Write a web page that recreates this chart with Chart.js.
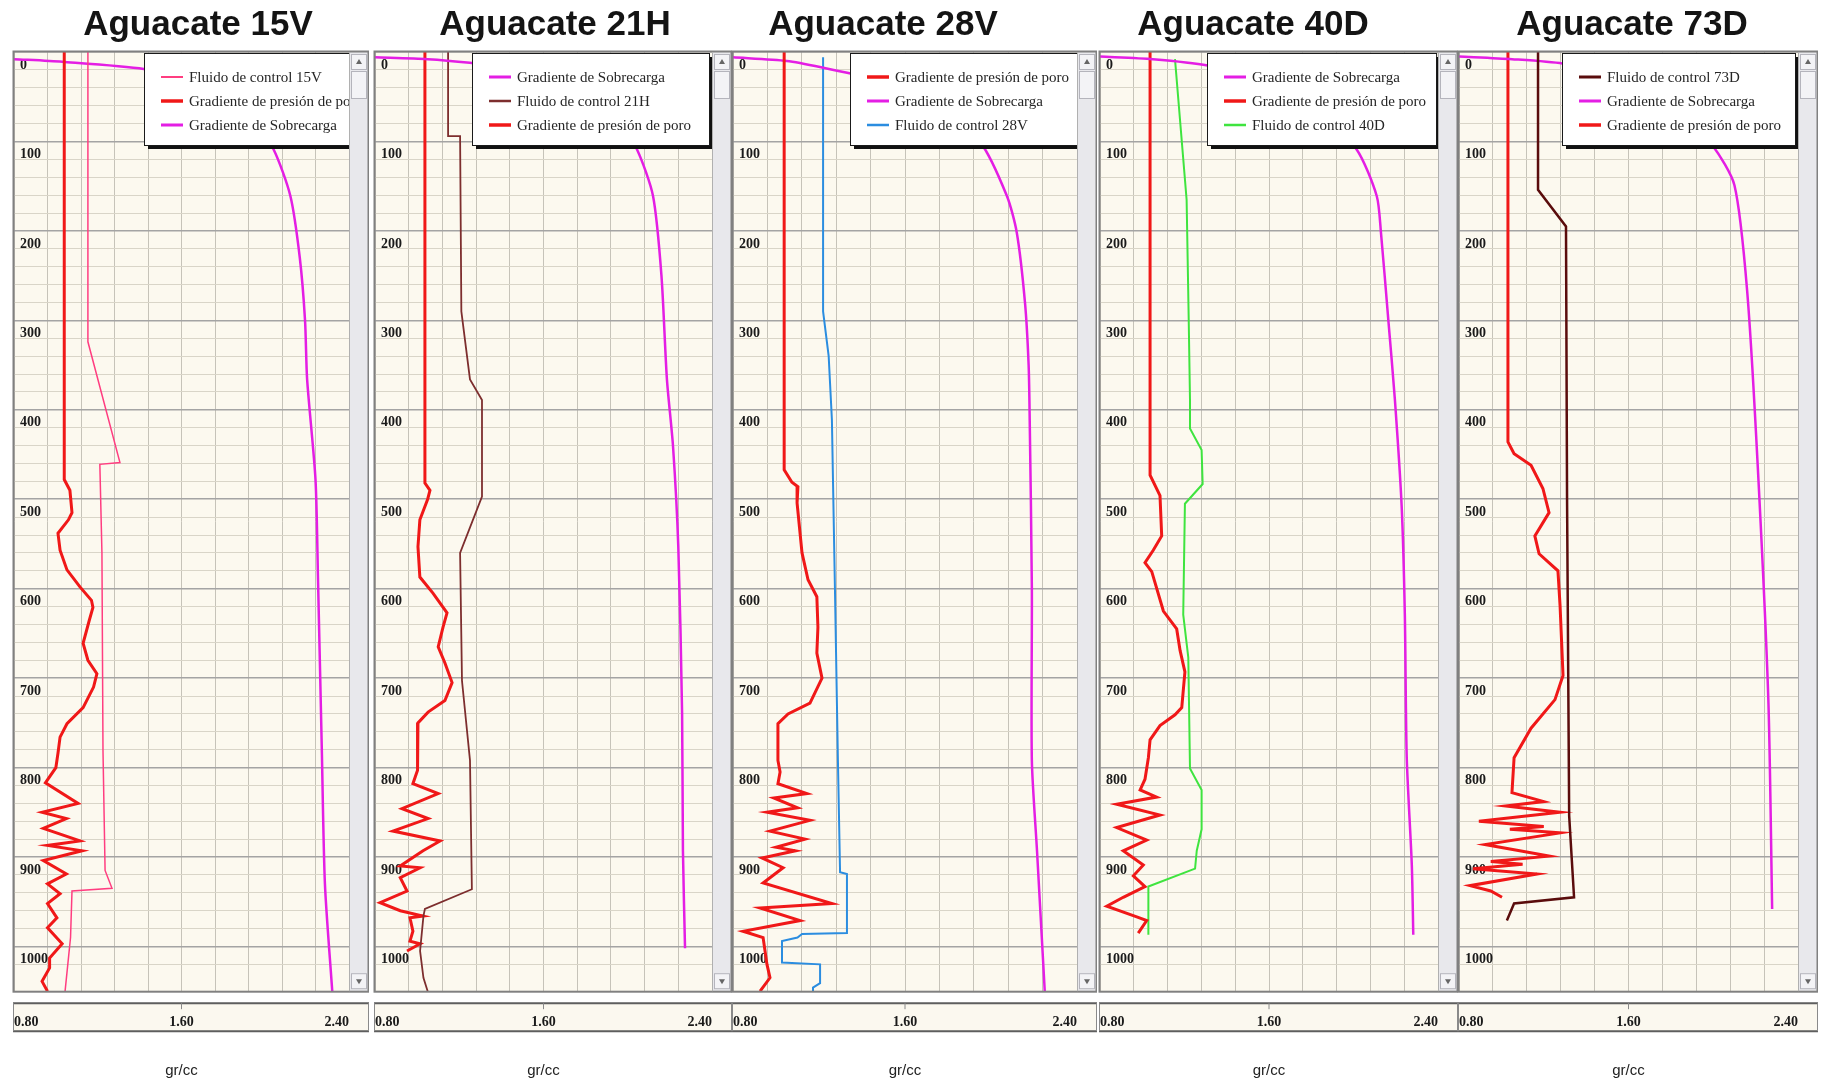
<!DOCTYPE html>
<html lang="es">
<head>
<meta charset="utf-8">
<title>Gradientes - Aguacate</title>
<script src="https://cdn.jsdelivr.net/npm/chart.js"></script>
<style>
  html, body { margin: 0; padding: 0; background: #fff; }
  #lamina { position: relative; width: 1826px; height: 1086px; overflow: hidden; }
  .pozo { position: absolute; top: 0; }
  .titulo {
    position: absolute; top: 2px; width: 320px; text-align: center;
    font: bold 35px "Liberation Sans", Arial, sans-serif; line-height: 42px;
    color: #141414; white-space: nowrap;
  }
</style>
</head>
<body>
<div id="lamina"></div>
<script>
// ejes
const densidadGrid = [0.8, 0.96, 1.12, 1.28, 1.44, 1.6, 1.76, 1.92, 2.08, 2.24, 2.4];
const densidadEtiquetas = [0.8, 1.6, 2.4];

// cada punto: [gr/cc, profundidad]
// Aguacate 15V
const control15V = [[1.153,0],[1.153,324],[1.306,459],[1.21,461],[1.22,560],[1.225,781],[1.235,915],[1.268,935],[1.077,938],[1.07,990],[1.044,1050]];
const poro15V = [[1.04,0],[1.04,478],[1.067,490],[1.077,515],[1.06,523],[1.01,538],[1.02,557],[1.053,579],[1.115,598],[1.17,613],[1.177,621],[1.16,635],[1.13,661],[1.153,680],[1.196,695],[1.18,710],[1.13,733],[1.053,751],[1.02,766],[1.01,784],[1.0,800],[0.95,817],[1.106,840],[0.934,850],[1.05,857],[0.94,868],[1.115,882],[0.96,887],[1.125,893],[0.94,904],[1.05,919],[0.96,930],[1.02,941],[0.96,952],[1.005,968],[0.96,979],[1.03,997],[0.97,1013],[0.97,1024],[0.934,1039],[0.96,1050]];
const sobrecarga15V = [[0.8,8],[1.03,11],[1.42,19],[1.72,35],[1.92,65],[2.04,109],[2.12,161],[2.165,230],[2.19,300],[2.2,366],[2.24,478],[2.252,590],[2.27,778],[2.285,930],[2.32,1050]];

// Aguacate 21H
const sobrecarga21H = [[0.8,6],[1.05,8],[1.25,12],[1.45,18],[1.75,38],[1.95,75],[2.044,109],[2.12,161],[2.16,250],[2.186,366],[2.215,441],[2.24,553],[2.258,739],[2.262,893],[2.272,1002]];
const control21H = [[1.147,0],[1.147,94],[1.204,94],[1.21,290],[1.251,366],[1.308,389],[1.308,497],[1.204,560],[1.213,703],[1.251,792],[1.26,936],[1.037,958],[1.03,966],[1.014,1005],[1.03,1035],[1.05,1050]];
const poro21H = [[1.037,0],[1.037,482],[1.061,490],[1.05,500],[1.013,523],[1.004,553],[1.013,587],[1.075,605],[1.142,627],[1.123,643],[1.1,665],[1.132,683],[1.166,705],[1.132,725],[1.052,738],[1.004,750],[1.004,792],[1.0,803],[0.98,818],[1.1,829],[0.928,846],[1.052,857],[0.885,871],[1.109,882],[1.028,893],[0.92,910],[1.014,912],[0.92,923],[0.952,938],[0.824,951],[0.92,960],[1.028,966],[0.966,968],[0.98,983],[0.966,994],[1.014,997],[0.952,1005]];

// Aguacate 28V
const poro28V = [[1.038,0],[1.038,411],[1.038,467],[1.074,481],[1.102,486],[1.098,504],[1.121,560],[1.149,590],[1.19,609],[1.195,643],[1.19,672],[1.214,700],[1.158,728],[1.056,740],[1.009,751],[1.009,792],[1.019,805],[1.009,818],[1.144,829],[0.99,834],[1.1,845],[0.958,850],[1.158,859],[0.972,871],[1.135,880],[1.0,889],[1.09,893],[0.935,901],[1.033,912],[0.94,929],[1.26,952],[0.926,957],[1.112,971],[0.847,983],[0.94,990],[0.958,1020],[0.972,1035],[0.926,1050]];
const sobrecarga28V = [[0.8,6],[1.05,10],[1.21,17],[1.45,30],[1.7,50],[1.95,101],[2.074,161],[2.12,202],[2.158,280],[2.175,350],[2.18,411],[2.19,598],[2.19,792],[2.214,893],[2.25,1050]];
const control28V = [[1.219,6],[1.219,290],[1.245,340],[1.26,411],[1.274,598],[1.288,792],[1.298,917],[1.33,919],[1.33,985],[1.121,986],[1.1,990],[1.028,994],[1.028,1018],[1.205,1020],[1.205,1041],[1.172,1046],[1.172,1052]];

// Aguacate 40D
const sobrecarga40D = [[0.8,5],[1.05,8],[1.31,15],[1.55,30],[1.8,55],[2.015,109],[2.11,161],[2.13,202],[2.165,300],[2.196,389],[2.228,508],[2.243,629],[2.252,789],[2.276,909],[2.283,987]];
const poro40D = [[1.037,0],[1.037,473],[1.084,496],[1.092,541],[1.052,557],[1.013,571],[1.045,581],[1.1,625],[1.163,645],[1.179,669],[1.202,693],[1.187,733],[1.155,741],[1.084,753],[1.037,769],[1.029,789],[1.013,813],[0.99,825],[1.068,833],[0.879,841],[1.084,853],[0.879,867],[1.021,881],[0.91,893],[1.005,909],[0.958,921],[1.013,933],[0.91,945],[0.832,955],[0.974,967],[1.021,971],[0.981,985]];
const control40D = [[1.155,8],[1.21,165],[1.22,300],[1.226,389],[1.226,421],[1.281,445],[1.286,483],[1.202,505],[1.194,629],[1.218,677],[1.226,801],[1.281,825],[1.281,869],[1.258,893],[1.25,913],[1.029,933],[1.029,987]];

// Aguacate 73D
const control73D = [[1.173,0],[1.173,154],[1.305,195],[1.31,500],[1.32,854],[1.343,945],[1.06,952],[1.026,971]];
const sobrecarga73D = [[0.8,5],[1.05,8],[1.29,13],[1.55,28],[1.8,55],[1.995,104],[2.1,149],[2.16,267],[2.21,463],[2.26,724],[2.278,958]];
const poro73D = [[1.031,0],[1.031,436],[1.06,449],[1.14,462],[1.196,488],[1.225,515],[1.158,541],[1.178,561],[1.267,580],[1.277,619],[1.291,697],[1.253,724],[1.14,756],[1.06,789],[1.05,828],[1.2,838],[1.02,843],[1.277,850],[0.894,860],[1.2,866],[1.04,869],[1.277,873],[0.923,886],[1.225,899],[0.95,905],[1.1,908],[0.866,913],[1.168,919],[0.852,932],[0.95,938],[1.003,945]];

const pozos = [
  { titulo: 'Aguacate 15V', series: [
    ['Fluido de control 15V', control15V, 'c15V'],
    ['Gradiente de presión de poro', poro15V, 'poro'],
    ['Gradiente de Sobrecarga', sobrecarga15V, 'sobrecarga']] },
  { titulo: 'Aguacate 21H', series: [
    ['Gradiente de Sobrecarga', sobrecarga21H, 'sobrecarga'],
    ['Fluido de control 21H', control21H, 'c21H'],
    ['Gradiente de presión de poro', poro21H, 'poro']] },
  { titulo: 'Aguacate 28V', series: [
    ['Gradiente de presión de poro', poro28V, 'poro'],
    ['Gradiente de Sobrecarga', sobrecarga28V, 'sobrecarga'],
    ['Fluido de control 28V', control28V, 'c28V']] },
  { titulo: 'Aguacate 40D', series: [
    ['Gradiente de Sobrecarga', sobrecarga40D, 'sobrecarga'],
    ['Gradiente de presión de poro', poro40D, 'poro'],
    ['Fluido de control 40D', control40D, 'c40D']] },
  { titulo: 'Aguacate 73D', series: [
    ['Fluido de control 73D', control73D, 'c73D'],
    ['Gradiente de Sobrecarga', sobrecarga73D, 'sobrecarga'],
    ['Gradiente de presión de poro', poro73D, 'poro']] }
];

// estilos y geometria (px)
const estilos = {
  poro:       { color: '#f01818', width: 3 },
  sobrecarga: { color: '#e41ee4', width: 2.5, tension: 0.25 },
  c15V:       { color: '#ff3d80', width: 1.5 },
  c21H:       { color: '#7d2e2e', width: 1.8 },
  c28V:       { color: '#2b8de0', width: 2 },
  c40D:       { color: '#3fe43f', width: 2 },
  c73D:       { color: '#5a0c0c', width: 2.5 }
};
const cajas = [
  { left: 12,   width: 357, legendLeft: 130, titleX: 198 },
  { left: 373,  width: 359, legendLeft: 97,  titleX: 555 },
  { left: 731,  width: 366, legendLeft: 117, titleX: 883 },
  { left: 1098, width: 360, legendLeft: 107, titleX: 1253 },
  { left: 1457, width: 361, legendLeft: 103, titleX: 1632 }
];
const SCROLL = 20;
const serif = '"Liberation Serif", "Times New Roman", serif';

// fondo crema, barra de desplazamiento y franja del eje x
const fondoPanel = {
  id: 'fondoPanel',
  beforeDraw(chart) {
    const { ctx, chartArea: a } = chart;
    ctx.save();
    ctx.fillStyle = '#fcf9ef';
    ctx.fillRect(a.left, a.top, a.width, a.height);

    // scrollbar
    const sx = a.right + 1, sw = SCROLL - 2;
    ctx.fillStyle = '#e8e8ec';
    ctx.fillRect(sx, a.top, sw, a.height);
    const boton = (y, h) => {
      ctx.fillStyle = '#f3f3f6';
      ctx.fillRect(sx + 1, y, sw - 2, h);
      ctx.strokeStyle = '#b4b4bc';
      ctx.lineWidth = 1;
      ctx.strokeRect(sx + 1.5, y + 0.5, sw - 3, h - 1);
    };
    boton(a.top + 2, 16);
    boton(a.top + 19, 28);
    boton(a.bottom - 18, 16);
    ctx.fillStyle = '#666';
    const cx = sx + sw / 2;
    ctx.beginPath();
    ctx.moveTo(cx - 3, a.top + 12); ctx.lineTo(cx + 3, a.top + 12); ctx.lineTo(cx, a.top + 7); ctx.fill();
    ctx.beginPath();
    ctx.moveTo(cx - 3, a.bottom - 12); ctx.lineTo(cx + 3, a.bottom - 12); ctx.lineTo(cx, a.bottom - 7); ctx.fill();

    // franja del eje x
    const y0 = a.bottom + 12, y1 = a.bottom + 40;
    const xl = a.left - 1, xr = a.right + SCROLL;
    ctx.fillStyle = '#fbf8ef';
    ctx.fillRect(xl, y0, xr - xl, y1 - y0);
    ctx.strokeStyle = '#5e5e5e';
    ctx.lineWidth = 2;
    ctx.beginPath();
    ctx.moveTo(xl, y0); ctx.lineTo(xr, y0);
    ctx.moveTo(xl, y1); ctx.lineTo(xr, y1);
    ctx.stroke();
    ctx.strokeStyle = '#8a8a8a';
    ctx.lineWidth = 1;
    ctx.beginPath();
    ctx.moveTo(xl + 0.5, y0); ctx.lineTo(xl + 0.5, y1);
    ctx.moveTo(xr - 0.5, y0); ctx.lineTo(xr - 0.5, y1);
    const xm = chart.scales.x.getPixelForValue(1.6);
    ctx.moveTo(xm, y0); ctx.lineTo(xm, y0 + 6);
    ctx.stroke();
    ctx.restore();
  },
  afterDraw(chart) {
    const { ctx, chartArea: a } = chart;
    ctx.save();
    ctx.strokeStyle = '#808080';
    ctx.lineWidth = 2;
    ctx.strokeRect(a.left - 0.5, a.top - 0.5, a.width + SCROLL, a.height + 1);
    ctx.strokeStyle = '#b0b0b0';
    ctx.lineWidth = 1;
    ctx.beginPath();
    ctx.moveTo(a.right + 0.5, a.top); ctx.lineTo(a.right + 0.5, a.bottom);
    ctx.stroke();
    ctx.restore();
  }
};

// leyenda con recuadro y sombra dentro del area de trazado
const leyendaRecuadro = {
  id: 'leyendaRecuadro',
  afterDatasetsDraw(chart, args, opts) {
    const { ctx, chartArea: a } = chart;
    const sets = chart.data.datasets;
    ctx.save();
    ctx.font = '15px ' + serif;
    const maxTxt = Math.max(...sets.map(d => ctx.measureText(d.label).width));
    const x0 = a.left + opts.left, y0 = a.top + 1;
    const w = Math.max(a.right - x0 - 3, 45 + maxTxt + 10), h = 92;
    ctx.beginPath();
    ctx.rect(a.left, a.top, a.width, a.height);
    ctx.clip();
    ctx.fillStyle = '#111';
    ctx.fillRect(x0 + 4, y0 + 4, w, h);
    ctx.fillStyle = '#fff';
    ctx.fillRect(x0, y0, w, h);
    ctx.strokeStyle = '#1a1a1a';
    ctx.lineWidth = 1;
    ctx.strokeRect(x0 + 0.5, y0 + 0.5, w, h);
    sets.forEach((d, i) => {
      const y = y0 + 24 + i * 24;
      ctx.strokeStyle = d.borderColor;
      ctx.lineWidth = d.borderWidth + 0.5;
      ctx.beginPath();
      ctx.moveTo(x0 + 17, y); ctx.lineTo(x0 + 39, y);
      ctx.stroke();
      ctx.fillStyle = '#262626';
      ctx.textBaseline = 'middle';
      ctx.fillText(d.label, x0 + 45, y + 1);
    });
    ctx.restore();
  }
};

const lamina = document.getElementById('lamina');

pozos.forEach((pozo, i) => {
  const caja = cajas[i];
  const wrap = document.createElement('div');
  wrap.className = 'pozo';
  wrap.style.left = caja.left + 'px';
  const canvas = document.createElement('canvas');
  canvas.width = caja.width;
  canvas.height = 1086;
  canvas.style.width = caja.width + 'px';
  canvas.style.height = '1086px';
  wrap.appendChild(canvas);
  lamina.appendChild(wrap);

  const titulo = document.createElement('div');
  titulo.className = 'titulo';
  titulo.style.left = (caja.titleX - 160) + 'px';
  titulo.textContent = pozo.titulo;
  lamina.appendChild(titulo);

  const datasets = pozo.series.map(([label, puntos, clave]) => {
    const e = estilos[clave];
    return {
      label: label,
      data: puntos.map(([x, y]) => ({ x: x, y: y })),
      showLine: true,
      fill: false,
      borderColor: e.color,
      backgroundColor: e.color,
      borderWidth: e.width,
      tension: e.tension || 0,
      pointRadius: 0,
      pointHoverRadius: 0
    };
  });

  new Chart(canvas, {
    type: 'scatter',
    data: { datasets: datasets },
    options: {
      responsive: false,
      animation: false,
      events: [],
      layout: { padding: { left: 2, right: SCROLL, top: 52, bottom: 0 } },
      plugins: {
        legend: { display: false },
        tooltip: { enabled: false },
        leyendaRecuadro: { left: caja.legendLeft }
      },
      scales: {
        x: {
          type: 'linear',
          position: 'bottom',
          min: 0.8,
          max: 2.4,
          afterBuildTicks: s => { s.ticks = densidadGrid.map(v => ({ value: v })); },
          afterFit: s => { s.paddingLeft = 0; s.paddingRight = 0; },
          grid: { color: '#c6c3b9', lineWidth: 1, drawTicks: false },
          border: { display: false },
          ticks: {
            autoSkip: false,
            maxRotation: 0,
            align: 'inner',
            padding: 23,
            color: '#1a1a1a',
            font: { family: serif, size: 14, weight: 'bold' },
            callback: v => densidadEtiquetas.some(e => Math.abs(e - v) < 1e-6) ? v.toFixed(2) : ''
          },
          title: {
            display: true,
            text: 'gr/cc',
            color: '#222',
            font: { family: '"Liberation Sans", Arial, sans-serif', size: 15 },
            padding: { top: 8, bottom: 6 }
          }
        },
        y: {
          type: 'linear',
          reverse: true,
          min: 0,
          max: 1050,
          afterFit: s => { s.width = 0; },
          grid: {
            drawTicks: false,
            color: c => (c.tick && c.tick.value % 100 === 0) ? '#a4a4a4' : '#d9d5c8',
            lineWidth: c => (c.tick && c.tick.value % 100 === 0) ? 1.5 : 1
          },
          border: { display: false },
          ticks: {
            stepSize: 20,
            autoSkip: false,
            mirror: true,
            padding: 6,
            labelOffset: 13,
            color: '#1a1a1a',
            font: { family: serif, size: 14, weight: 'bold' },
            callback: v => (v % 100 === 0) ? String(v) : ''
          }
        }
      }
    },
    plugins: [fondoPanel, leyendaRecuadro]
  });
});
</script>
</body>
</html>
